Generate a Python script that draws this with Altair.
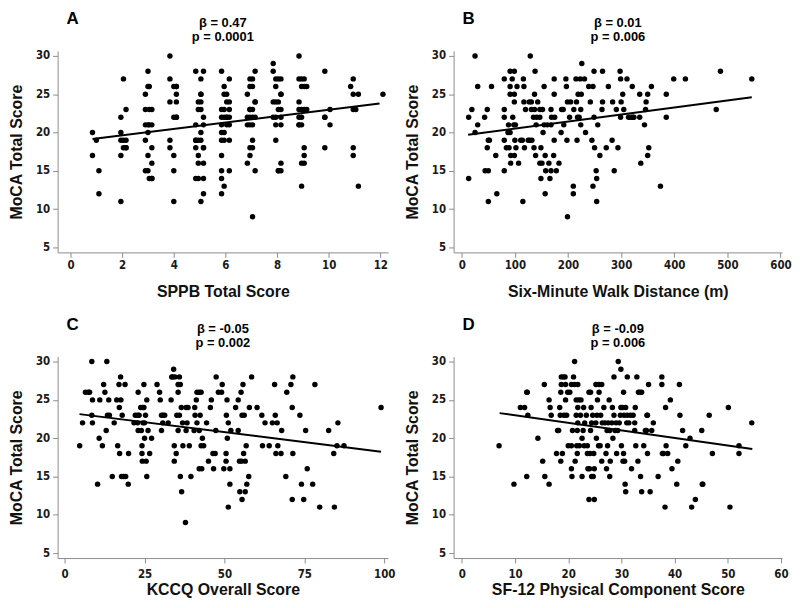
import altair as alt
import pandas as pd

# ---------------- data ----------------
# Panel A: SPPB (jittered integer scores) vs MoCA
A_cols = [0.85, 1.0, 1.1, 1.95, 2.05, 2.15, 2.9, 3.0, 3.05, 3.15, 3.85, 4.0, 4.1,
          4.85, 4.95, 5.05, 5.15, 5.85, 5.95, 6.05, 6.15, 6.85, 6.95, 7.05, 7.15,
          7.85, 7.95, 8.05, 8.15, 8.85, 8.95, 9.05, 9.15, 9.85, 10.05, 10.85,
          10.95, 11.05, 11.15, 12.1]
A_vals = [[20, 17], [19], [15, 12], [22, 20, 19, 17, 11], [27, 19, 18], [23, 19, 18, 18],
          [25, 23, 21, 19, 15], [28, 26, 21, 20, 17, 15], [26, 23, 21, 14],
          [23, 21, 18, 16, 14, 14], [30, 27, 24, 19, 18], [26, 22, 17, 15, 11],
          [26, 26, 25, 24, 22, 22], [28, 21, 19, 19, 18, 14], [24, 23, 19, 17, 16, 14],
          [27, 25, 25, 24, 23, 20, 19, 11], [28, 22, 21, 18, 18, 16, 14, 12],
          [28, 23, 22, 21, 20, 19, 17, 15, 14, 12], [26, 25, 23, 22, 20, 19, 13],
          [25, 24, 22, 22, 21], [27, 24, 23, 22, 21, 19, 15], [25, 22, 21, 16],
          [27, 26, 23, 23, 22, 21, 18, 17], [27, 26, 23, 22, 21, 19, 18, 9],
          [28, 24, 24, 22, 15], [29, 28, 24, 22], [27, 26, 24, 22, 21, 19],
          [27, 24, 23, 15, 15], [27, 25, 25, 23, 22, 21, 16, 15],
          [30, 27, 24, 23, 22, 21, 21], [27, 26, 23, 22, 21, 16, 13],
          [27, 26, 23, 18, 17, 16], [26, 23], [28, 22, 22, 18], [23, 21], [26],
          [27, 25, 23, 18, 17], [23], [25, 13], [25]]
A_points = [(c, v) for c, vals in zip(A_cols, A_vals) for v in vals]
A_line_x = [0.85, 11.97]
A_line_y = [19.14, 23.8]

# Panel B: six-minute walk distance (m) vs MoCA
B_points = [(13, 22), (13, 14), (19, 23), (25, 30), (25, 20), (30, 21), (30, 26), (43, 22),
            (44, 15), (48, 23), (48, 18), (50, 19), (50, 15), (50, 11), (52, 19), (56, 26),
            (64, 17), (66, 12), (80, 27), (80, 23), (80, 22), (80, 19), (80, 15), (84, 18),
            (87, 20), (88, 21), (89, 18), (91, 28), (91, 26), (91, 25), (91, 20), (92, 17),
            (92, 16), (95, 27), (96, 22), (98, 21), (99, 17), (99, 28), (99, 25), (99, 24),
            (100, 19), (101, 21), (102, 18), (104, 26), (107, 16), (111, 19), (114, 19),
            (115, 11), (116, 27), (117, 26), (117, 24), (118, 18), (120, 23), (125, 19),
            (127, 24), (128, 19), (129, 30), (131, 24), (131, 23), (132, 19), (135, 22),
            (136, 18), (137, 25), (137, 23), (138, 28), (139, 17), (140, 21), (141, 22),
            (143, 24), (147, 23), (147, 22), (147, 16), (149, 14), (149, 18), (151, 16),
            (152, 23), (153, 20), (155, 26), (155, 21), (157, 17), (157, 12), (158, 15),
            (161, 21), (164, 16), (166, 14), (168, 23), (168, 21), (168, 15), (169, 22),
            (173, 17), (174, 25), (174, 27), (174, 19), (175, 22), (178, 15), (183, 16),
            (187, 20), (188, 23), (191, 23), (192, 21), (196, 27), (197, 26), (198, 19),
            (199, 24), (199, 9), (203, 22), (205, 24), (210, 13), (210, 12), (211, 23),
            (215, 27), (216, 24), (217, 19), (218, 22), (219, 25), (221, 22), (223, 27),
            (224, 23), (224, 21), (225, 25), (226, 29), (231, 27), (233, 20), (239, 26),
            (242, 24), (245, 19), (247, 26), (247, 13), (249, 22), (249, 28), (250, 18),
            (253, 15), (254, 14), (254, 11), (256, 21), (260, 17), (264, 23), (265, 24),
            (265, 28), (272, 18), (276, 26), (283, 19), (284, 24), (287, 15), (291, 23),
            (294, 18), (298, 28), (299, 27), (299, 22), (300, 24), (303, 25), (305, 23),
            (311, 27), (314, 22), (318, 22), (321, 26), (322, 22), (324, 22), (335, 25),
            (335, 22), (337, 16), (344, 21), (346, 23), (347, 24), (350, 25), (350, 17),
            (352, 18), (357, 26), (374, 13), (385, 25), (385, 22), (399, 27), (421, 27),
            (479, 23), (487, 28), (546, 27)]
B_line_x = [12, 546]
B_line_y = [19.7, 24.6]

# Panel C: KCCQ overall score vs MoCA
C_points = [(4.7, 19), (5.6, 22), (6.5, 26), (7.4, 26), (7.8, 26), (8.5, 30), (8.7, 25), (8.5, 23),
            (8.7, 22), (10.3, 14), (10.8, 20), (11, 25), (11.8, 19), (12.2, 27), (12.6, 26),
            (13, 21), (13.2, 30), (13.4, 23), (13.8, 25), (14, 23), (14.9, 15), (15.5, 22),
            (16.3, 25), (16.6, 19), (17, 27), (17.1, 24), (17.2, 18), (17.5, 28), (17.6, 25),
            (17.8, 15), (18, 23), (18.5, 15), (18.9, 27), (19.1, 15), (19.9, 14), (20, 18),
            (21.7, 22), (22.1, 23), (22.8, 23), (22.8, 22), (23, 26), (23, 21), (23.3, 23),
            (23.8, 24), (24, 21), (24.2, 19), (24.2, 18), (24.3, 17), (24.4, 24), (24.5, 22),
            (24.8, 24), (24.8, 27), (25, 20), (25, 22), (25.3, 23), (25.5, 17), (25.7, 15),
            (25.7, 25), (26.1, 21), (26.6, 18), (27.2, 20), (28.9, 27), (29.7, 26), (29.9, 25),
            (30.3, 21), (30.3, 23), (30.7, 22), (30.8, 23), (31.3, 23), (32.4, 22), (33.3, 25),
            (33.5, 28), (33.8, 28), (34.1, 29), (34.3, 19), (34.3, 17), (34.5, 28), (34.9, 18),
            (35.1, 23), (35.5, 21), (35.5, 26), (35.5, 27), (35.9, 23), (35.9, 28), (36.2, 27),
            (36.2, 15), (36.5, 24), (36.6, 13), (36.9, 22), (37, 19), (37.8, 9), (38, 21),
            (38, 24), (38.3, 22), (38.6, 24), (39, 19), (39.5, 15), (40.5, 21), (40.7, 24),
            (40.8, 23), (41.2, 25), (41.4, 22), (41.4, 26), (42.1, 21), (42.4, 23), (42.1, 26),
            (42.1, 16), (42.7, 26), (42.7, 19), (42.9, 16), (43.1, 20), (43.5, 19), (44.4, 22),
            (45, 17), (45.6, 24), (45.9, 25), (46.4, 18), (46.6, 16), (47.1, 18), (47.3, 21),
            (47.4, 28), (48.1, 26), (49.1, 26), (49.3, 27), (49.8, 16), (50.5, 18), (50.5, 17),
            (50.6, 23), (50.8, 25), (50.9, 20), (51.2, 11), (51.2, 22), (51.7, 16), (51.7, 14),
            (52, 21), (53.5, 24), (54.3, 25), (54.3, 21), (54.7, 17), (54.8, 13), (55.2, 26),
            (55.3, 17), (55.5, 12), (55.5, 23), (55.8, 27), (56, 18), (56.2, 23), (56.5, 17),
            (56.5, 13), (56.8, 19), (57, 14), (57.6, 15), (57.8, 24), (58.5, 28), (60.2, 24),
            (61.7, 23), (61.9, 19), (62.7, 22), (64, 19), (65, 22), (65.7, 27), (65.9, 23),
            (66.1, 18), (66.5, 22), (66.7, 19), (67.7, 18), (67.9, 21), (69.2, 15), (69.5, 26),
            (70.8, 27), (71.2, 24), (71.2, 12), (71.4, 18), (71.4, 28), (73.6, 23), (74.1, 14),
            (74.8, 12), (75.4, 21), (75.9, 16), (77.6, 14), (78.3, 27), (79.8, 11), (82.6, 21),
            (84.2, 18), (84.4, 11), (85.5, 22), (85.2, 19), (87.4, 19), (99, 24)]
C_line_x = [4.65, 99]
C_line_y = [23.14, 18.24]

# Panel D: SF-12 physical component score vs MoCA
D_points = [(7, 19), (9.8, 14), (11, 24), (11.8, 24), (12.2, 26), (12.3, 26), (12.2, 15), (12.4, 23),
            (14.3, 20), (15.2, 17), (15.5, 27), (15.6, 15), (16.4, 25), (16.6, 24), (16.4, 14),
            (16.8, 23), (17.8, 18), (18, 21), (18.2, 21), (18.4, 24), (18.5, 23), (18.6, 17),
            (18.6, 26), (18.7, 28), (18.7, 27), (18.9, 18), (19.1, 28), (19.2, 23), (19.4, 28),
            (19.5, 27), (19.5, 25), (19.7, 23), (19.9, 26), (20, 19), (20.3, 26), (20.6, 27),
            (20.6, 16), (20.6, 19), (20.7, 15), (20.8, 21), (21, 28), (21.2, 30), (21.2, 27),
            (21.3, 17), (21.5, 25), (21.5, 23), (21.6, 19), (21.7, 21), (21.7, 18), (21.8, 22),
            (21.8, 27), (21.8, 24), (22, 25), (22.1, 19), (22.3, 23), (22.4, 25), (22.6, 20),
            (22.6, 15), (22.8, 21), (22.9, 24), (23, 19), (23.1, 22), (23.4, 23), (23.6, 18),
            (23.6, 19), (23.7, 16), (23.9, 12), (23.9, 26), (24, 16), (24.1, 18), (24.2, 26),
            (24.2, 21), (24.3, 24), (24.4, 15), (24.4, 22), (24.6, 23), (24.7, 15), (24.8, 18),
            (24.9, 12), (24.9, 16), (25.2, 22), (25.2, 27), (25.3, 20), (25.4, 23), (25.5, 25),
            (25.7, 19), (25.8, 27), (25.8, 26), (26, 19), (26.1, 23), (26.3, 27), (26.3, 17),
            (26.4, 22), (26.7, 24), (26.9, 22), (27.1, 18), (27.2, 16), (27.3, 21), (27.4, 19),
            (27.5, 22), (27.7, 25), (27.8, 21), (27.8, 15), (27.9, 17), (28.2, 22), (28.3, 24),
            (28.4, 20), (28.6, 23), (28.6, 28), (28.8, 21), (29, 22), (29.1, 18), (29.3, 21),
            (29.4, 30), (29.6, 22), (29.8, 23), (29.9, 29), (29.9, 24), (30, 19), (30.2, 24),
            (30.3, 17), (30.4, 18), (30.4, 26), (30.5, 23), (30.6, 17), (30.7, 14), (30.8, 13),
            (30.8, 24), (31, 22), (31.1, 23), (31.1, 28), (31.4, 22), (31.7, 23), (31.9, 16),
            (32.2, 23), (32.5, 22), (32.5, 21), (32.6, 24), (32.7, 19), (32.9, 28), (33.1, 17),
            (33.2, 26), (33.5, 26), (33.8, 26), (33.6, 15), (33.8, 13), (34.2, 19), (34.5, 21),
            (34.7, 21), (34.8, 23), (34.9, 23), (34.9, 18), (35.1, 27), (35.4, 13), (35.7, 21),
            (36, 22), (36.9, 15), (37.6, 27), (37.6, 28), (37.7, 18), (37.9, 18), (38.2, 11),
            (38.3, 24), (38.4, 19), (38.7, 18), (39.2, 25), (39.5, 16), (40.4, 14), (40.6, 17),
            (40.9, 27), (41, 23), (41.5, 21), (42.1, 19), (42.9, 20), (43.2, 11), (43.9, 12),
            (45.1, 21), (45.2, 14), (45.3, 14), (46.5, 23), (47.1, 18), (50.1, 24), (50.4, 11),
            (52.1, 19), (52.1, 18), (54.5, 22)]
D_line_x = [7.1, 54.6]
D_line_y = [23.27, 18.58]

letters = ["A", "B", "C", "D"]
stats = [["β = 0.47", "p = 0.0001"], ["β = 0.01", "p = 0.006"],
         ["β = -0.05", "p = 0.002"], ["β = -0.09", "p = 0.006"]]
x_titles = ["SPPB Total Score", "Six-Minute Walk Distance (m)",
            "KCCQ Overall Score", "SF-12 Physical Component Score"]
x_ticks = [[0, 2, 4, 6, 8, 10, 12], [0, 100, 200, 300, 400, 500, 600],
           [0, 25, 50, 75, 100], [0, 10, 20, 30, 40, 50, 60]]
x_domains = [[-0.5, 12.3], [-15.4, 603], [-2.2, 101.2], [-1.55, 60.2]]
y_ticks = [5, 10, 15, 20, 25, 30]
y_domain = [4.35, 30.65]
y_title = "MoCA Total Score"

TITLE_FONT = "Liberation Sans"
TICK_FONT = "Liberation Sans Narrow, Arial Narrow, DejaVu Sans Condensed, sans-serif"
W_LEFT, W_RIGHT, H = 333, 331, 203


def panel(points, line_x, line_y, i, width, label_pad, title_pad):
    df = pd.DataFrame(points, columns=["x", "y"])
    ldf = pd.DataFrame({"x": line_x, "y": line_y})
    xs = alt.Scale(domain=x_domains[i], nice=False, zero=False)
    ys = alt.Scale(domain=y_domain, nice=False, zero=False)
    xenc = alt.X("x:Q", scale=xs,
                 axis=alt.Axis(values=x_ticks[i], title=x_titles[i], format="d",
                               labelPadding=label_pad, titlePadding=title_pad))
    yenc = alt.Y("y:Q", scale=ys,
                 axis=alt.Axis(values=y_ticks, title=y_title, format="d",
                               labelPadding=3, titlePadding=11))
    pts = alt.Chart(df).mark_circle(size=30, color="black", opacity=1).encode(x=xenc, y=yenc)
    ln = alt.Chart(ldf).mark_line(color="black", strokeWidth=2).encode(x=xenc, y=yenc)
    one = alt.Data(values=[{"k": 0}])
    let = alt.Chart(one).mark_text(text=letters[i], align="left", baseline="alphabetic",
                                   fontSize=17, fontWeight="bold", font=TITLE_FONT,
                                   color="black").encode(x=alt.value(9), y=alt.value(-27))
    s1 = alt.Chart(one).mark_text(text=stats[i][0], align="center", baseline="alphabetic",
                                  fontSize=13, fontWeight="bold", font=TITLE_FONT,
                                  color="black").encode(x=alt.value(width / 2), y=alt.value(-24))
    s2 = alt.Chart(one).mark_text(text=stats[i][1], align="center", baseline="alphabetic",
                                  fontSize=13, fontWeight="bold", font=TITLE_FONT,
                                  color="black").encode(x=alt.value(width / 2), y=alt.value(-10))
    return alt.layer(pts, ln, let, s1, s2).properties(width=width, height=H)


pA = panel(A_points, A_line_x, A_line_y, 0, W_LEFT, 2, 13)
pB = panel(B_points, B_line_x, B_line_y, 1, W_RIGHT, 2, 13)
pC = panel(C_points, C_line_x, C_line_y, 2, W_LEFT, 6, 1)
pD = panel(D_points, D_line_x, D_line_y, 3, W_RIGHT, 6, 1)

chart = (
    alt.concat(pA, pB, pC, pD, columns=2,
               spacing=alt.RowColnumber(row=105, column=66), bounds="flush")
    .properties(padding=0, background="white")
    .configure_view(stroke=None)
    .configure_axis(
        grid=False,
        domainColor="#8c8c8c",
        tickColor="#8c8c8c",
        domainWidth=1,
        tickSize=5,
        labelFont=TICK_FONT,
        labelFontSize=11.5,
        labelFontWeight="bold",
        labelColor="#1a1a1a",
        titleFont=TITLE_FONT,
        titleFontSize=16,
        titleFontWeight="bold",
        titleColor="#111111",
    )
)

chart.save("out.html", embed_options={"renderer": "svg", "actions": False})
